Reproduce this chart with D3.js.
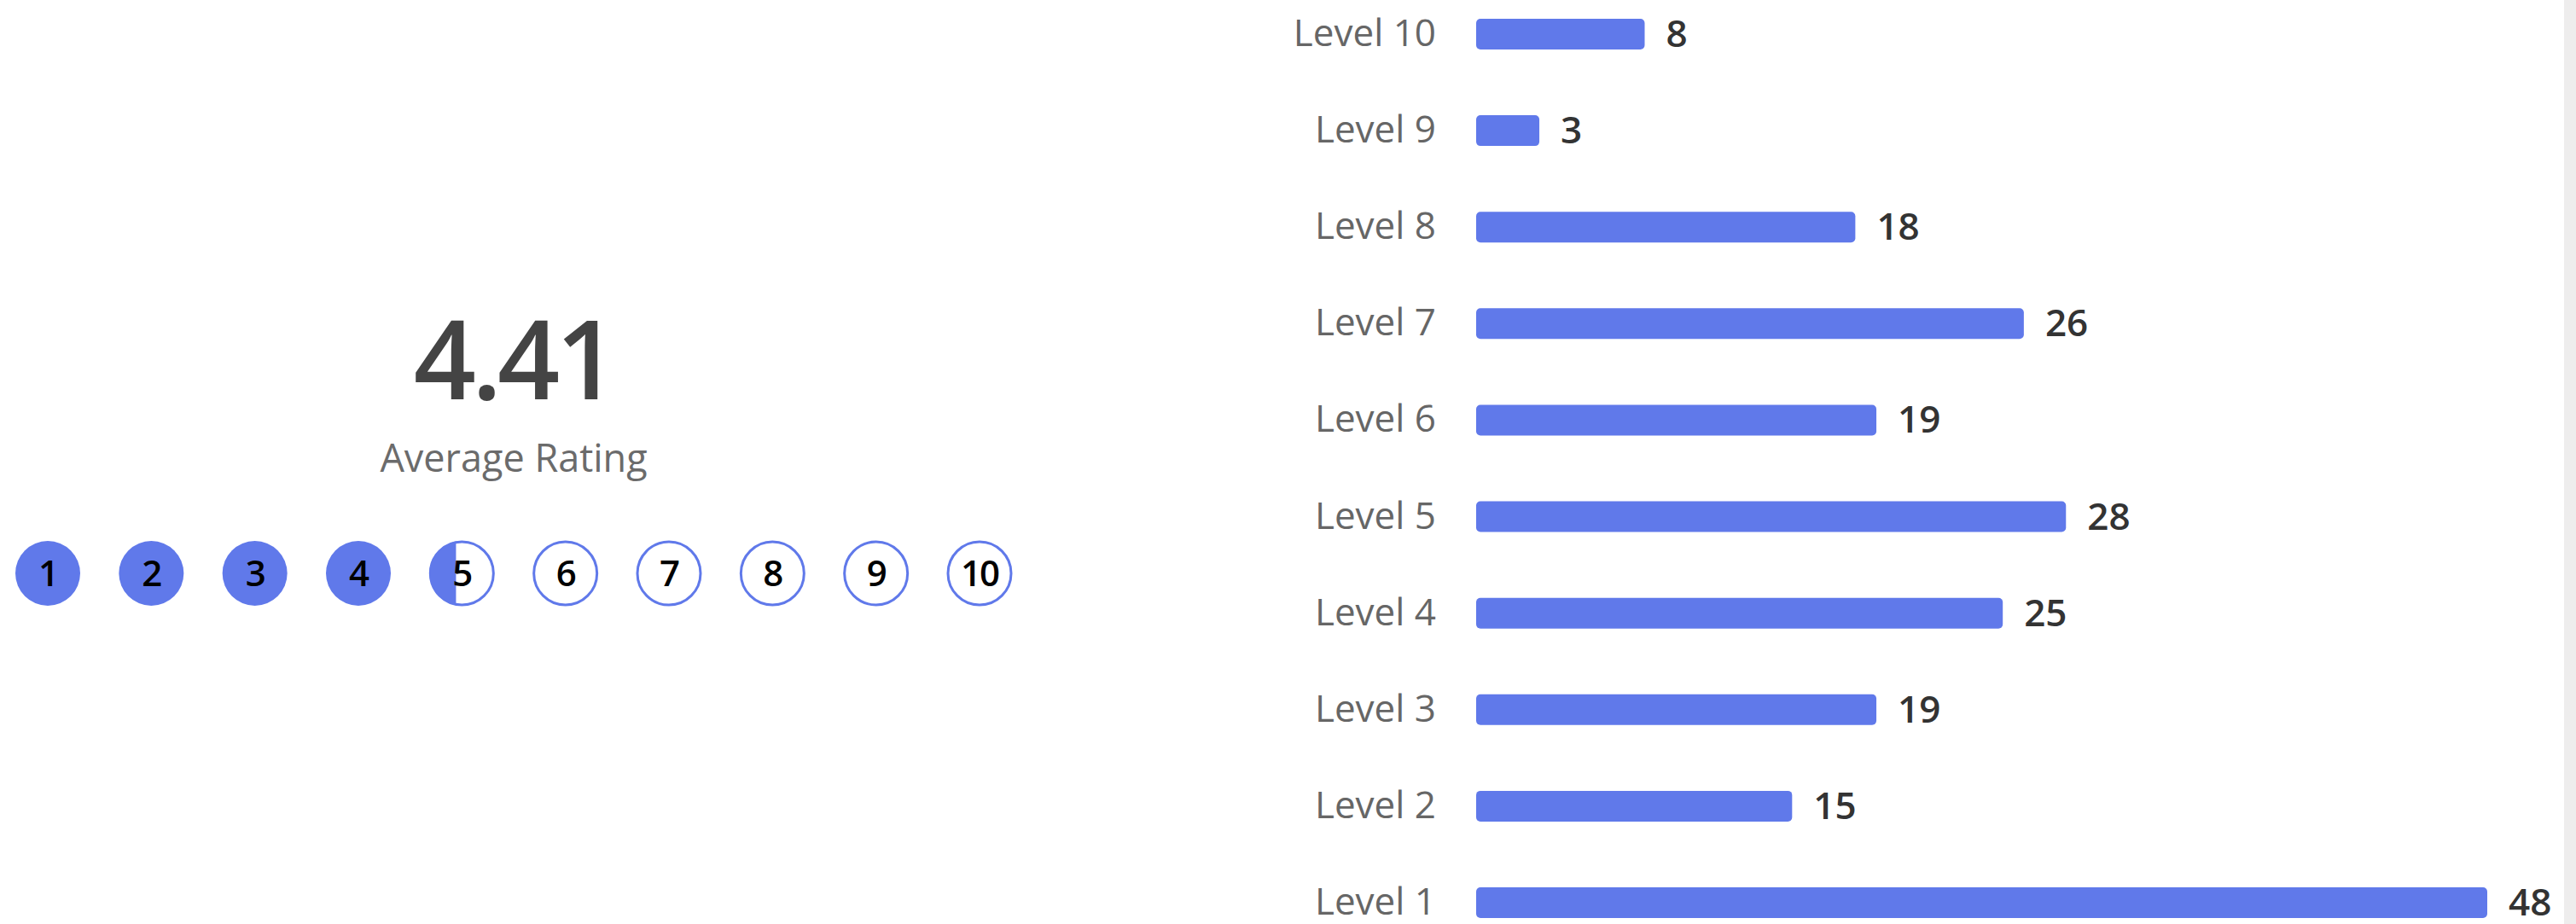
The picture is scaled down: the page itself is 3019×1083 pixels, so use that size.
<!DOCTYPE html>
<html>
<head>
<meta charset="utf-8">
<script src="https://cdn.jsdelivr.net/npm/d3@7"></script>
<style>
  html, body { margin: 0; padding: 0; background: #fff; overflow: hidden; }
  #chart { position: relative; }
</style>
</head>
<body>
<div id="chart"></div>
<script>
const WIDTH = 3019
const HEIGHT = 1083

const BLUE = '#6079ea';
const FONT = '"Open Sans", "Noto Sans", sans-serif';

// rating levels and how many votes each got
const levels = ['Level 10', 'Level 9', 'Level 8', 'Level 7', 'Level 6', 'Level 5', 'Level 4', 'Level 3', 'Level 2', 'Level 1'];
const levelValues = [10, 9, 8, 7, 6, 5, 4, 3, 2, 1];
const counts = [8, 3, 18, 26, 19, 28, 25, 19, 15, 48];
const ratingSteps = [1, 2, 3, 4, 5, 6, 7, 8, 9, 10];

const total = d3.sum(counts);
const average = d3.sum(counts, (c, i) => c * levelValues[i]) / total;

var svg = d3.select("#chart").append("svg")
    .attr("width", WIDTH)
    .attr("height", HEIGHT);

// scrollbar strip on the right
svg.append("rect")
    .attr("x", 3005)
    .attr("y", 0)
    .attr("width", WIDTH - 3005)
    .attr("height", HEIGHT)
    .attr("fill", "#eeeded");

// ---- left side: average + rating circles
var left = svg.append("g");

left.append("text")
    .attr("x", 602)
    .attr("y", 468)
    .attr("text-anchor", "middle")
    .attr("font-family", FONT)
    .attr("font-size", "128px")
    .attr("font-weight", 600)
    .attr("letter-spacing", "-5px")
    .attr("fill", "#444")
    .text(average.toFixed(2));

left.append("text")
    .attr("x", 602)
    .attr("y", 553)
    .attr("text-anchor", "middle")
    .attr("font-family", FONT)
    .attr("font-size", "45px")
    .attr("fill", "#6b6b6b")
    .text("Average Rating");

var cx = d3.scalePoint()
    .domain(ratingSteps)
    .range([56, 1148]);

const R = 37;

var steps = left.selectAll("g.step")
    .data(ratingSteps)
    .enter()
    .append("g")
        .attr("class", "step")
        .attr("transform", d => `translate(${cx(d)},672)`);

steps.append("circle")
    .attr("r", R)
    .attr("fill", "#fff")
    .attr("stroke", d => d <= Math.floor(average) ? "none" : BLUE)
    .attr("stroke-width", 3);

// fill, clipped for the partial step
var defs = svg.append("defs");
ratingSteps.forEach(d => {
    let frac = Math.max(0, Math.min(1, average - (d - 1)));
    defs.append("clipPath")
        .attr("id", "clip" + d)
        .append("rect")
            .attr("x", -R - 2)
            .attr("y", -R - 2)
            .attr("width", (2 * R + 4) * frac)
            .attr("height", 2 * R + 4);
});

steps.append("circle")
    .attr("r", R + 1)
    .attr("fill", BLUE)
    .attr("clip-path", d => `url(#clip${d})`);

steps.append("text")
    .attr("y", 15)
    .attr("text-anchor", "middle")
    .attr("font-family", FONT)
    .attr("font-size", "42px")
    .attr("font-weight", 600)
    .attr("letter-spacing", "-2px")
    .attr("fill", "#000")
    .text(d => d);

// ---- right side: horizontal bars
var xScale = d3.scaleLinear()
    .domain([0, d3.max(counts)])
    .range([1730, 2915]);

var yScale = d3.scalePoint()
    .domain(levels)
    .range([40, 1058]);

const BAR_H = 36;

var rows = svg.selectAll("g.row")
    .data(levels)
    .enter()
    .append("g")
        .attr("class", "row")
        .attr("transform", d => `translate(0,${yScale(d)})`);

rows.append("text")
    .attr("x", 1683)
    .attr("y", 14)
    .attr("text-anchor", "end")
    .attr("font-family", FONT)
    .attr("font-size", "44px")
    .attr("fill", "#666")
    .text(d => d);

rows.append("rect")
    .attr("x", xScale(0))
    .attr("y", -BAR_H / 2)
    .attr("width", (d, i) => xScale(counts[i]) - xScale(0))
    .attr("height", BAR_H)
    .attr("rx", 5)
    .attr("fill", BLUE);

rows.append("text")
    .attr("x", (d, i) => xScale(counts[i]) + 25)
    .attr("y", 15)
    .attr("font-family", FONT)
    .attr("font-size", "44px")
    .attr("font-weight", 600)
    .attr("fill", "#333")
    .text((d, i) => counts[i]);
</script>
</body>
</html>
